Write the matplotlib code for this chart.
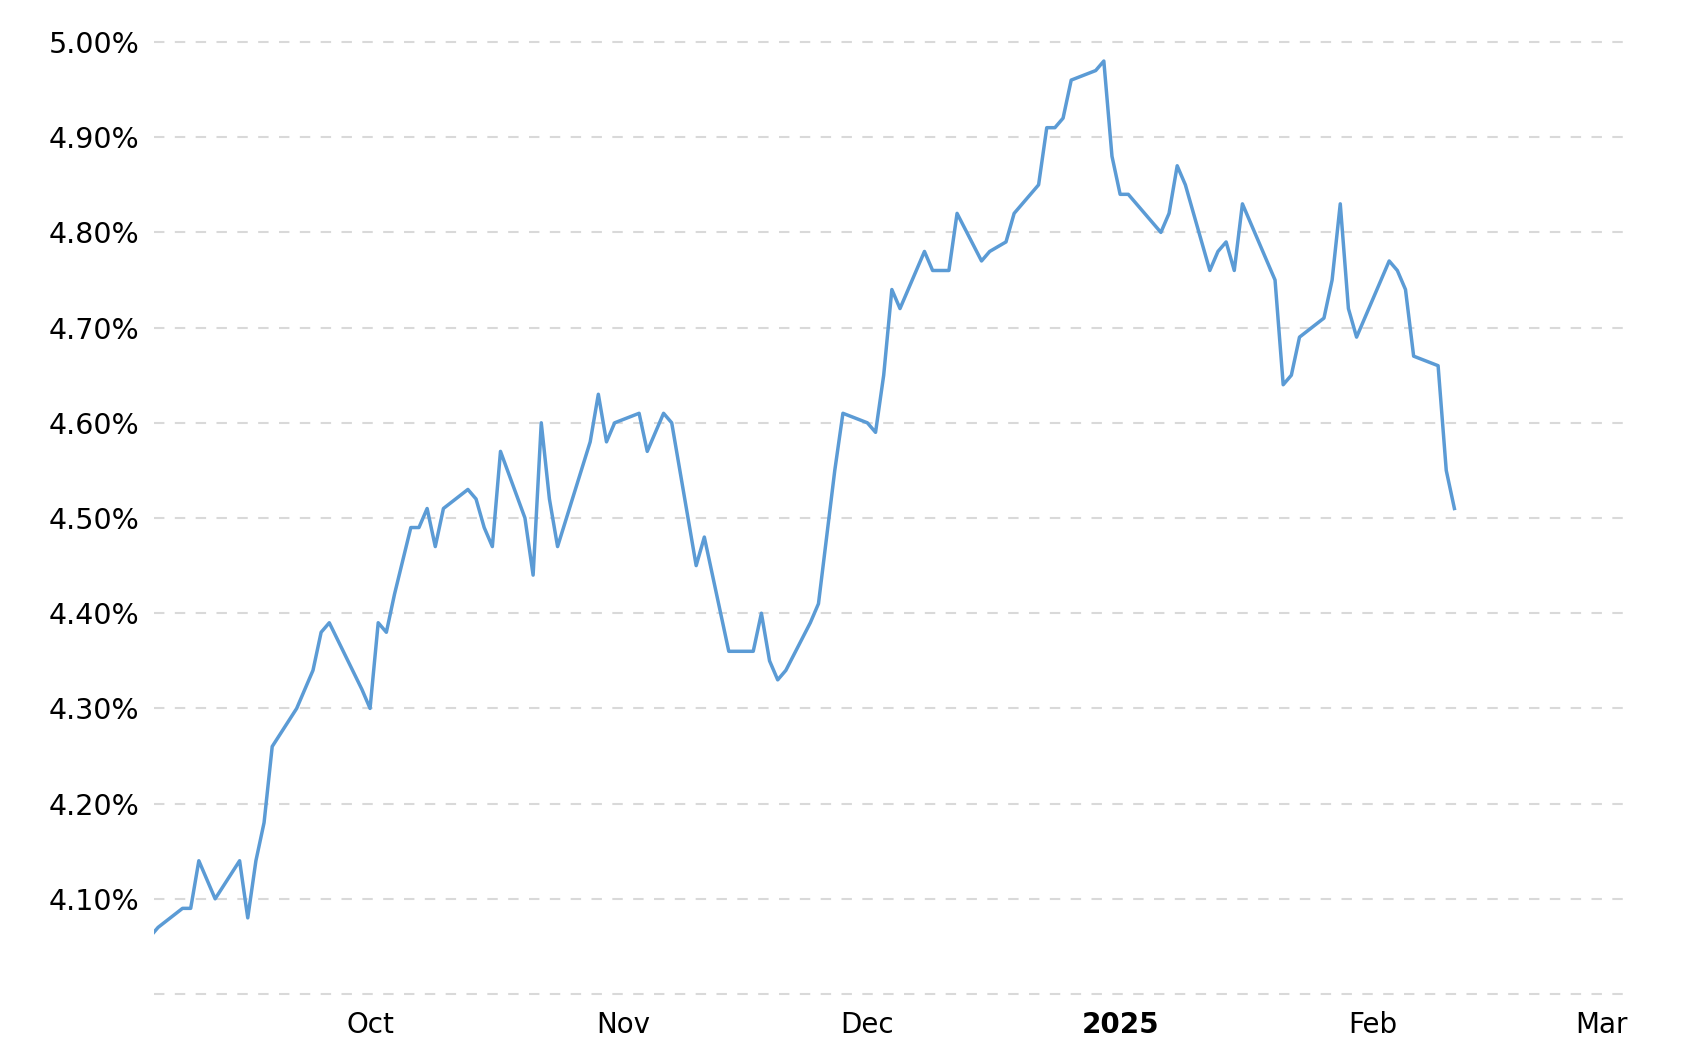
import numpy as np
import matplotlib
matplotlib.use("Agg")
import matplotlib.pyplot as plt
from matplotlib.ticker import FuncFormatter

# daily rate (in %)
DATES = [
    "2024-09-04", "2024-09-05", "2024-09-08", "2024-09-09", "2024-09-10", "2024-09-11",
    "2024-09-12", "2024-09-15", "2024-09-16", "2024-09-17", "2024-09-18", "2024-09-19",
    "2024-09-22", "2024-09-23", "2024-09-24", "2024-09-25", "2024-09-26", "2024-09-30",
    "2024-10-01", "2024-10-02", "2024-10-03", "2024-10-04", "2024-10-06", "2024-10-07",
    "2024-10-08", "2024-10-09", "2024-10-10", "2024-10-13", "2024-10-14", "2024-10-15",
    "2024-10-16", "2024-10-17", "2024-10-20", "2024-10-21", "2024-10-22", "2024-10-23",
    "2024-10-24", "2024-10-28", "2024-10-29", "2024-10-30", "2024-10-31", "2024-11-03",
    "2024-11-04", "2024-11-06", "2024-11-07", "2024-11-10", "2024-11-11", "2024-11-14",
    "2024-11-17", "2024-11-18", "2024-11-19", "2024-11-20", "2024-11-21", "2024-11-24",
    "2024-11-25", "2024-11-27", "2024-11-28", "2024-12-01", "2024-12-02", "2024-12-03",
    "2024-12-04", "2024-12-05", "2024-12-08", "2024-12-09", "2024-12-11", "2024-12-12",
    "2024-12-15", "2024-12-16", "2024-12-18", "2024-12-19", "2024-12-22", "2024-12-23",
    "2024-12-24", "2024-12-25", "2024-12-26", "2024-12-29", "2024-12-30", "2024-12-31",
    "2025-01-01", "2025-01-02", "2025-01-06", "2025-01-07", "2025-01-08", "2025-01-09",
    "2025-01-12", "2025-01-13", "2025-01-14", "2025-01-15", "2025-01-16", "2025-01-20",
    "2025-01-21", "2025-01-22", "2025-01-23", "2025-01-26", "2025-01-27", "2025-01-28",
    "2025-01-29", "2025-01-30", "2025-02-03", "2025-02-04", "2025-02-05", "2025-02-06",
    "2025-02-09", "2025-02-10", "2025-02-11",
]
RATES = [
    4.06, 4.07, 4.09, 4.09, 4.14, 4.12,
    4.10, 4.14, 4.08, 4.14, 4.18, 4.26,
    4.30, 4.32, 4.34, 4.38, 4.39, 4.32,
    4.30, 4.39, 4.38, 4.42, 4.49, 4.49,
    4.51, 4.47, 4.51, 4.53, 4.52, 4.49,
    4.47, 4.57, 4.50, 4.44, 4.60, 4.52,
    4.47, 4.58, 4.63, 4.58, 4.60, 4.61,
    4.57, 4.61, 4.60, 4.45, 4.48, 4.36,
    4.36, 4.40, 4.35, 4.33, 4.34, 4.39,
    4.41, 4.55, 4.61, 4.60, 4.59, 4.65,
    4.74, 4.72, 4.78, 4.76, 4.76, 4.82,
    4.77, 4.78, 4.79, 4.82, 4.85, 4.91,
    4.91, 4.92, 4.96, 4.97, 4.98, 4.88,
    4.84, 4.84, 4.80, 4.82, 4.87, 4.85,
    4.76, 4.78, 4.79, 4.76, 4.83, 4.75,
    4.64, 4.65, 4.69, 4.71, 4.75, 4.83,
    4.72, 4.69, 4.77, 4.76, 4.74, 4.67,
    4.66, 4.55, 4.51,
]

TICK_DATES = ["2024-10-01", "2024-11-01", "2024-12-01", "2025-01-01", "2025-02-01", "2025-03-01"]
TICK_LABELS = ["Oct", "Nov", "Dec", "2025", "Feb", "Mar"]
Y_TICKS = [4.0, 4.1, 4.2, 4.3, 4.4, 4.5, 4.6, 4.7, 4.8, 4.9, 5.0]

LINE_COLOR = "#5b9bd5"
GRID_COLOR = "#d9d9d9"

plt.rcParams["font.family"] = ["DejaVu Sans"]

fig = plt.figure(figsize=(16.96, 10.5), dpi=100)
ax = fig.add_axes([0.0908, 0.0533, 0.8667, 0.9067])

x = np.array(DATES, dtype="datetime64[D]")
ax.plot(x, RATES, color=LINE_COLOR, lw=2.5, zorder=3)

ax.set_xlim(np.datetime64("2024-09-04T12:00"), np.datetime64("2025-03-03T19:00"))
ax.set_ylim(4.0, 5.0)

ax.set_yticks(Y_TICKS)
ax.yaxis.set_major_formatter(FuncFormatter(lambda v, _: "" if v < 4.05 else f"{v:.2f}%"))
ax.set_xticks(np.array(TICK_DATES, dtype="datetime64[D]"))
ax.set_xticklabels(TICK_LABELS)
ax.get_xticklabels()[3].set_fontweight("bold")

ax.tick_params(axis="both", length=0, colors="#000000")
ax.tick_params(axis="y", pad=10.5, labelsize=20.5)
ax.tick_params(axis="x", pad=12.5, labelsize=20)

ax.grid(axis="y", color=GRID_COLOR, lw=1.5, ls=(0, (5, 5)))
ax.grid(axis="x", visible=False)
for gl in ax.get_ygridlines():
    gl.set_clip_on(False)
for s in ax.spines.values():
    s.set_visible(False)

fig.savefig("out.png", dpi=100, facecolor="white")
